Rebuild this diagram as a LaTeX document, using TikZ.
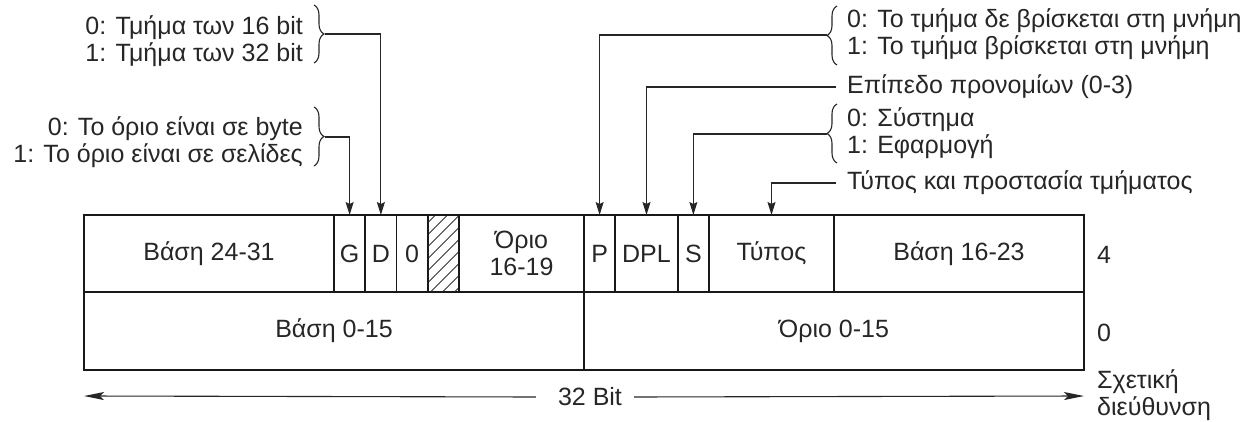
\documentclass[tikz,border=0pt]{standalone}
\usepackage{fontspec}
\setmainfont{Liberation Sans}
\usetikzlibrary{arrows.meta,patterns.meta,decorations.pathreplacing}

\begin{document}
\begin{tikzpicture}[
    x=1pt, y=-1pt,
    font=\fontsize{25}{27}\selectfont,
    every node/.style={text=black!85},
    field_style/.style={draw=black!90, line width=1.8pt, outer sep=0pt, inner sep=0pt, align=center, anchor=north west},
    label_style/.style={inner sep=0pt},
    brace_style/.style={draw=black!85, decorate, decoration={brace, amplitude=10pt}, line width=1.1pt},
    conn_style/.style={draw=black!85, line width=1.1pt, -{Stealth[length=13pt, width=8pt, inset=2pt]}},
    span_style/.style={draw=black!85, line width=1.1pt, -{Stealth[length=20pt, width=8pt, inset=4pt]}}
]
\useasboundingbox (0,0) rectangle (1243,422);
% Obere Zeile (Offset 4)
\foreach \n/\s/\w/\t in {b2431/0/8/{Βάση 24-31}, G/8/1/G, D/9/1/D, Z/10/1/0, l1619/12/4/{Όριο\\16-19}, P/16/1/P, DPL/17/2/DPL, S/19/1/S, typ/20/4/Τύπος, b1623/24/8/{Βάση 16-23}} {
    \node[field_style, minimum width=\w*31.25pt, minimum height=77pt] (\n) at (84+\s*31.25, 215) {\t};
}
\node[field_style, minimum width=31.25pt, minimum height=77pt, pattern={Lines[angle=45, distance=8.5pt, line width=0.9pt]}, pattern color=black!80] (avl) at (84+11*31.25, 215) {};
% Untere Zeile (Offset 0)
\foreach \n/\s/\t in {b015/0/{Βάση 0-15}, l015/16/{Όριο 0-15}} {
    \node[field_style, minimum width=500pt, minimum height=78pt] (\n) at (84+\s*31.25, 292) {\t};
}
% Offsets rechts
\node[label_style, anchor=west] (off4) at (1097,255) {4};
\node[label_style, anchor=west] (off0) at (1097,333) {0};
\node[label_style, anchor=west, align=left] (reladdr) at (1097,395) {Σχετική\\διεύθυνση};
% 32 Bit
\node[label_style] (bits) at (590,397) {32 Bit};
\coordinate (spanL) at (84,396);
\coordinate (spanR) at (1084,396);
\draw[span_style] ([xshift=-22pt]bits.west) -- (spanL);
\draw[span_style] ([xshift=12pt]bits.east) -- (spanR);
% Beschriftungen links
\node[label_style, anchor=east, align=right] (dlbl) at (303,41) {0: Τμήμα των 16 bit\\1: Τμήμα των 32 bit};
\draw[brace_style] (314,5) -- (314,63);
\coordinate (dtip) at (325,34);
\draw[conn_style] (dtip) -| (D.north);
\node[label_style, anchor=east, align=right] (glbl) at (303,142) {0: Το όριο είναι σε byte\\1: Το όριο είναι σε σελίδες};
\draw[brace_style] (314,107) -- (314,166);
\coordinate (gtip) at (325,137);
\draw[conn_style] (gtip) -| (G.north);
% Beschriftungen rechts
\node[label_style, anchor=west, align=left] (preslbl) at (847,34) {0: Το τμήμα δε βρίσκεται στη μνήμη\\1: Το τμήμα βρίσκεται στη μνήμη};
\draw[brace_style] (837,65) -- (837,6);
\coordinate (ptip) at (827,35);
\draw[conn_style] (ptip) -| (P.north);
\node[label_style, anchor=west] (dpllbl) at (847,87) {Επίπεδο προνομίων (0-3)};
\draw[conn_style] ([xshift=-11pt]dpllbl.west) -| (DPL.north);
\node[label_style, anchor=west, align=left] (syslbl) at (847,133) {0: Σύστημα\\1: Εφαρμογή};
\draw[brace_style] (837,163) -- (837,104);
\coordinate (stip) at (827,134);
\draw[conn_style] (stip) -| (S.north);
\node[label_style, anchor=west] (typlbl) at (847,183) {Τύπος και προστασία τμήματος};
\draw[conn_style] ([xshift=-11pt]typlbl.west) -| (typ.north);
\end{tikzpicture}
\end{document}
